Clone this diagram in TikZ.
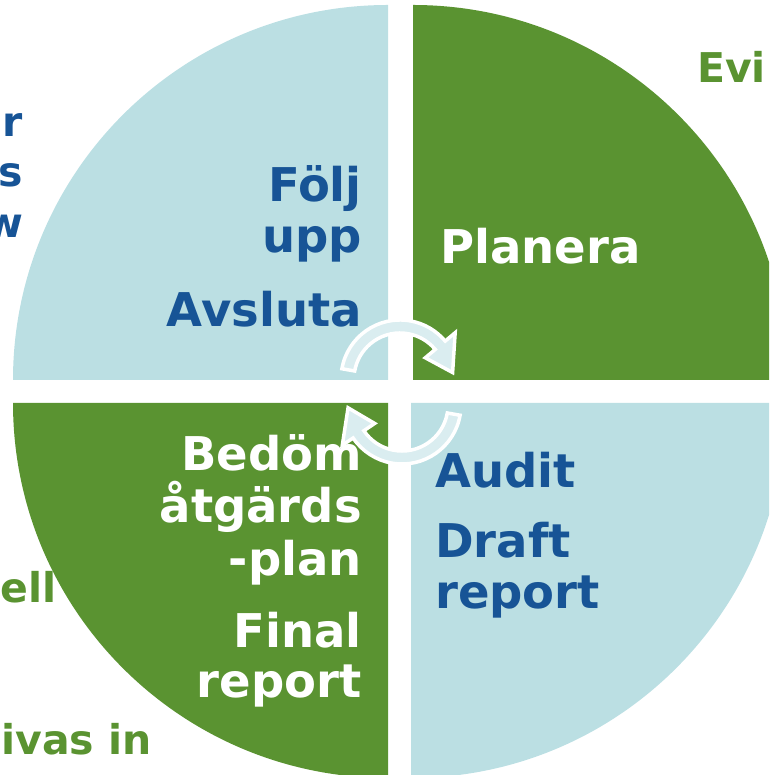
\documentclass[tikz,border=0pt]{standalone}
\usepackage{fontspec}
\setmainfont{DejaVu Sans}
\definecolor{lblue}{HTML}{BBDFE3}
\definecolor{dgreen}{HTML}{5A9331}
\definecolor{tblue}{HTML}{175496}
\definecolor{arrowfill}{HTML}{DAEDF0}
\begin{document}
\begin{tikzpicture}[x=1pt,y=1pt,
  big/.style={inner sep=0pt, font=\bfseries\fontsize{46.5}{52}\selectfont},
  side/.style={inner sep=0pt, font=\bfseries\fontsize{41}{46}\selectfont},
  cyc/.style={fill=arrowfill, draw=white, line width=3.5pt, line join=miter}]
\useasboundingbox (0,0) rectangle (769,775);
\clip (0,0) rectangle (769,775);
% quadrants
\fill[lblue] (388,395) -- (13,395) arc[start angle=180,end angle=90,radius=375pt] -- cycle;
\fill[dgreen] (413,395) -- (788,395) arc[start angle=0,end angle=90,radius=375pt] -- cycle;
\fill[dgreen] (388,372) -- (13,372) arc[start angle=180,end angle=270,radius=375pt] -- cycle;
\fill[lblue] (411,372) -- (786,372) arc[start angle=0,end angle=-90,radius=375pt] -- cycle;
% cycle arrows
\begin{scope}[shift={(400,396)}]
\path[cyc] (170:59pt) arc[start angle=170,end angle=40,radius=59pt] -- (40:72pt)
  -- (7:53pt) -- (40:33pt) -- (40:46pt) arc[start angle=40,end angle=170,radius=46pt] -- cycle;
\end{scope}
\begin{scope}[shift={(402,370)}]
\path[cyc] (-10:59pt) arc[start angle=-10,end angle=-146,radius=59pt] -- (-146:72pt)
  -- (-177:54pt) -- (-146:33pt) -- (-146:46pt) arc[start angle=-146,end angle=-10,radius=46pt] -- cycle;
\end{scope}
% quadrant texts
\node[big, text=tblue, anchor=base east] (folj) at (362,573) {Följ};
\node[big, text=tblue, anchor=base east] (upp) at (362,522) {upp};
\node[big, text=tblue, anchor=base east] (avsluta) at (362,448) {Avsluta};
\node[big, text=white, anchor=base west] (planera) at (440,511) {Planera};
\node[big, text=white, anchor=base east] (bedom) at (362,304) {Bedöm};
\node[big, text=white, anchor=base east] (atgards) at (362,252) {åtgärds};
\node[big, text=white, anchor=base east] (plan) at (362,199) {-plan};
\node[big, text=white, anchor=base east] (final) at (362,127) {Final};
\node[big, text=white, anchor=base east] (freport) at (362,77) {report};
\node[big, text=tblue, anchor=base west] (audit) at (435,287) {Audit};
\node[big, text=tblue, anchor=base west] (draft) at (435,217) {Draft};
\node[big, text=tblue, anchor=base west] (dreport) at (435,166) {report};
% cut-off outside texts
\node[side, text=tblue, anchor=base east] (r) at (23,638) {r};
\node[side, text=tblue, anchor=base east] (s) at (23,588) {s};
\node[side, text=tblue, anchor=base east] (w) at (24,537) {w};
\node[side, text=dgreen, anchor=base west] (evi) at (697,692) {Evi};
\node[side, text=dgreen, anchor=base east] (ell) at (57,172) {ell};
\node[side, text=dgreen, anchor=base east] (ivas) at (152,20) {ivas in};
\end{tikzpicture}
\end{document}
